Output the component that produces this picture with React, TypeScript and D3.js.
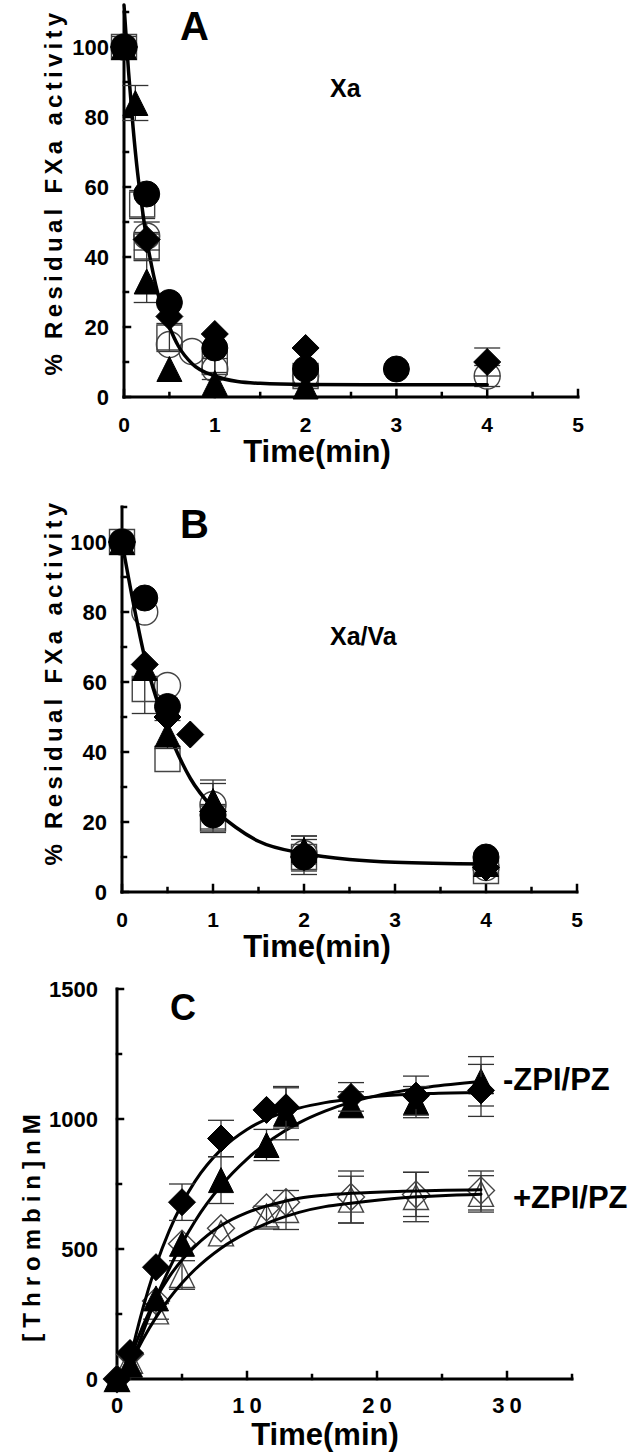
import * as d3 from 'd3';

type Pt = [number, number, number?];
type Shape = 'circle' | 'triangle' | 'diamond' | 'square';

const FONT = '"Liberation Sans", Arial, Helvetica, sans-serif';

// ---------- panel A : Xa ----------
const aFilledCircle: Pt[] = [[0, 100], [0.25, 58], [0.5, 27], [1, 14], [2, 8], [3, 8]];
const aFilledTriangle: Pt[] = [[0, 100], [0.125, 84, 5], [0.25, 33, 6], [0.5, 8], [1, 4], [2, 3]];
const aFilledDiamond: Pt[] = [[0, 100], [0.25, 45], [0.5, 23], [1, 18], [2, 14], [4, 10, 4]];
const aOpenSquare: Pt[] = [[0, 100, 3], [0.2, 55, 4], [0.25, 43, 4], [0.5, 17, 4], [1, 10, 3], [2, 6, 3]];
const aOpenCircle: Pt[] = [[0, 100], [0.25, 46, 4], [0.5, 15], [0.75, 13], [1, 8, 3], [2, 6], [4, 6, 3]];
const aFit: [number, number][] = [
  [0, 112], [0.05, 93], [0.1, 77], [0.15, 64], [0.2, 54], [0.25, 45], [0.3, 38], [0.4, 27],
  [0.5, 20], [0.6, 14.5], [0.75, 9.5], [1, 6], [1.25, 4.4], [1.5, 3.9], [2, 3.6], [3, 3.5], [4, 3.5],
];

// ---------- panel B : Xa/Va ----------
const bFilledCircle: Pt[] = [[0, 100], [0.25, 84], [0.5, 53], [1, 22], [2, 10], [4, 10]];
const bFilledTriangle: Pt[] = [[0, 100], [0.25, 64], [0.5, 45, 4], [1, 26, 5], [2, 12, 4], [4, 8]];
const bFilledDiamond: Pt[] = [[0, 100], [0.25, 65], [0.5, 50], [0.75, 45], [1, 23], [2, 10], [4, 7]];
const bOpenSquare: Pt[] = [[0, 100], [0.25, 58, 7], [0.5, 38], [1, 21, 4], [2, 10, 5], [4, 6]];
const bOpenCircle: Pt[] = [[0, 100], [0.25, 80], [0.5, 59], [1, 25, 7], [2, 11, 5], [4, 7]];
const bFit: [number, number][] = [
  [0, 100], [0.125, 82.5], [0.25, 67], [0.375, 55.5], [0.5, 46.5], [0.75, 32.5], [1, 24],
  [1.25, 18.5], [1.5, 14.5], [2, 11], [2.5, 9.3], [3, 8.5], [4, 8],
];

// ---------- panel C : thrombin generation ----------
const cMinusDiamond: Pt[] = [[0, 0], [1, 100], [3, 430], [5, 680, 70], [8, 925, 70], [11.5, 1035], [13, 1045, 80], [18, 1085, 55], [23, 1090, 75], [28, 1110, 100]];
const cMinusTriangle: Pt[] = [[0, 0], [1, 55], [3, 310], [5, 520], [8, 765, 90], [11.5, 900, 60], [13, 1020, 100], [18, 1055, 50], [23, 1065, 60], [28, 1145, 95]];
const cPlusDiamond: Pt[] = [[0, 0], [1, 95], [3, 300], [5, 520], [8, 580], [11.5, 660], [13, 680], [18, 700, 100], [23, 710, 85], [28, 725, 75]];
const cPlusTriangle: Pt[] = [[0, 0], [1, 70], [3, 260, 30], [5, 400, 55], [8, 560], [11.5, 625, 40], [13, 650, 75], [18, 690, 90], [23, 700, 95], [28, 712, 70]];
const cFitMinusDiamond: [number, number][] = [[0.7, 0], [1, 72], [2, 273], [3, 437], [4, 568], [5, 674], [6, 760], [8, 882], [10, 960], [12, 1010], [14, 1042], [16, 1063], [18, 1077], [20, 1087], [24, 1098], [28, 1102]];
const cFitMinusTriangle: [number, number][] = [[0.8, 0], [1, 33], [2, 180], [3, 310], [4, 422], [5, 521], [6, 607], [8, 743], [10, 846], [12, 925], [14, 985], [16, 1030], [18, 1065], [20, 1090], [24, 1123], [28, 1144]];
const cFitPlusDiamond: [number, number][] = [[0.5, 0], [1, 75], [2, 205], [3, 309], [4, 392], [5, 458], [6, 510], [8, 590], [10, 640], [12, 672], [14, 695], [16, 707], [18, 714], [22, 722], [28, 728]];
const cFitPlusTriangle: [number, number][] = [[0.5, 0], [1, 55], [2, 153], [3, 237], [4, 308], [5, 369], [6, 421], [8, 503], [10, 563], [12, 608], [14, 641], [16, 663], [18, 676], [22, 697], [28, 711]];

// ---------- axes ----------
const abYMajor = [0, 20, 40, 60, 80, 100];
const abYMinor = [10, 30, 50, 70, 90, 110];
const abXMajor = [0, 1, 2, 3, 4, 5];
const abXMinor = [0.5, 1.5, 2.5, 3.5, 4.5];
const cYMajor = [0, 500, 1000, 1500];
const cYMinor = [250, 750, 1250];
const cXMajor = [0, 10, 20, 30];
const cXMinor = [5, 15, 25, 35];

const shapeD: Record<Shape, string> = {
  circle: 'M13,0A13,13,0,1,1,-13,0A13,13,0,1,1,13,0Z',
  triangle: 'M0,-12.5L12.5,12.5L-12.5,12.5Z',
  diamond: 'M0,-13.5L13.5,0L0,13.5L-13.5,0Z',
  square: 'M-12.5,-12.5H12.5V12.5H-12.5Z',
};

type Scale = d3.ScaleLinear<number, number>;

function Markers({ pts, shape, filled, x, y }: { pts: Pt[]; shape: Shape; filled: boolean; x: Scale; y: Scale }) {
  const col = filled ? '#000' : '#444';
  return (
    <g>
      {pts.map(([t, v, e], i) => {
        const cx = x(t);
        return (
          <g key={i}>
            {e ? (
              <g stroke="#333" strokeWidth={1.3}>
                <line x1={cx} x2={cx} y1={y(v - e)} y2={y(v + e)} />
                <line x1={cx - 13} x2={cx + 13} y1={y(v - e)} y2={y(v - e)} />
                <line x1={cx - 13} x2={cx + 13} y1={y(v + e)} y2={y(v + e)} />
              </g>
            ) : null}
            <path
              d={shapeD[shape]}
              transform={`translate(${cx},${y(v)})`}
              fill={filled ? '#000' : 'none'}
              stroke={col}
              strokeWidth={filled ? 1 : 1.4}
            />
          </g>
        );
      })}
    </g>
  );
}

function Fit({ data, x, y, w = 3.5 }: { data: [number, number][]; x: Scale; y: Scale; w?: number }) {
  const line = d3.line<[number, number]>().x(d => x(d[0])).y(d => y(d[1])).curve(d3.curveMonotoneX);
  return <path d={line(data) ?? ''} fill="none" stroke="#000" strokeWidth={w} strokeLinecap="round" />;
}

function Axes({ x, y, yMajor, yMinor, xMajor, xMinor, yTop, xEnd, yLabelGap, xLabelDy, tickFont, xSpacing }: {
  x: Scale; y: Scale; yMajor: number[]; yMinor: number[]; xMajor: number[]; xMinor: number[];
  yTop: number; xEnd: number; yLabelGap: number; xLabelDy: number; tickFont: number; xSpacing: number;
}) {
  const x0 = x(0);
  const y0 = y(0);
  return (
    <g fontFamily={FONT} fontWeight="bold" fill="#000">
      <g stroke="#000" strokeWidth={3} strokeLinecap="square">
        <line x1={x0} x2={x0} y1={y0} y2={y(yTop)} />
        <line x1={x0} x2={x(xEnd)} y1={y0} y2={y0} />
        {yMajor.map(v => <line key={'ym' + v} x1={x0} x2={x0 + 6} y1={y(v)} y2={y(v)} strokeWidth={2.5} />)}
        {yMinor.map(v => <line key={'yn' + v} x1={x0} x2={x0 + 4} y1={y(v)} y2={y(v)} strokeWidth={2.5} />)}
        {xMajor.map(v => <line key={'xm' + v} x1={x(v)} x2={x(v)} y1={y0} y2={y0 - 7} strokeWidth={2.5} />)}
        {xMinor.map(v => <line key={'xn' + v} x1={x(v)} x2={x(v)} y1={y0} y2={y0 - 4} strokeWidth={2.5} />)}
      </g>
      {yMajor.map(v => (
        <text key={'yl' + v} x={x0 - yLabelGap} y={y(v) + 8} textAnchor="end" fontSize={22}>{v}</text>
      ))}
      {xMajor.map(v => (
        <text key={'xl' + v} x={x(v) + xSpacing / 2} y={y0 + xLabelDy} textAnchor="middle" fontSize={tickFont} letterSpacing={xSpacing}>{v}</text>
      ))}
    </g>
  );
}

export default function App() {
  const xA = d3.scaleLinear().domain([0, 5]).range([124, 578]);
  const yA = d3.scaleLinear().domain([0, 110]).range([397, 12]);
  const xB = d3.scaleLinear().domain([0, 5]).range([122, 577]);
  const yB = d3.scaleLinear().domain([0, 110]).range([892, 507]);
  const xC = d3.scaleLinear().domain([0, 35]).range([117, 572]);
  const yC = d3.scaleLinear().domain([0, 1500]).range([1379, 989]);

  const yTitle = { fontFamily: FONT, fontWeight: 'bold' as const, fontSize: 24, letterSpacing: 4.3, textAnchor: 'middle' as const };

  return (
    <svg width={633} height={1452} style={{ position: 'absolute', left: 0, top: 0, background: '#fff' }}>
      <rect width={633} height={1452} fill="#fff" />

      {/* ---- A ---- */}
      <Axes x={xA} y={yA} yMajor={abYMajor} yMinor={abYMinor} xMajor={abXMajor} xMinor={abXMinor}
        yTop={110} xEnd={5} yLabelGap={15} xLabelDy={35} tickFont={21} xSpacing={0} />
      <Markers pts={aOpenSquare} shape="square" filled={false} x={xA} y={yA} />
      <Markers pts={aOpenCircle} shape="circle" filled={false} x={xA} y={yA} />
      <Fit data={aFit} x={xA} y={yA} />
      <Markers pts={aFilledTriangle} shape="triangle" filled x={xA} y={yA} />
      <Markers pts={aFilledDiamond} shape="diamond" filled x={xA} y={yA} />
      <Markers pts={aFilledCircle} shape="circle" filled x={xA} y={yA} />
      <text transform="translate(62,192) rotate(-90)" {...yTitle}>% Residual FXa activity</text>
      <text x={317} y={462} textAnchor="middle" fontFamily={FONT} fontWeight="bold" fontSize={31}>Time(min)</text>
      <text x={180} y={40} fontFamily={FONT} fontWeight="bold" fontSize={40}>A</text>
      <text x={330} y={97} fontFamily={FONT} fontWeight="bold" fontSize={25}>Xa</text>

      {/* ---- B ---- */}
      <Axes x={xB} y={yB} yMajor={abYMajor} yMinor={abYMinor} xMajor={abXMajor} xMinor={abXMinor}
        yTop={110} xEnd={5} yLabelGap={15} xLabelDy={35} tickFont={21} xSpacing={0} />
      <Markers pts={bOpenSquare} shape="square" filled={false} x={xB} y={yB} />
      <Markers pts={bOpenCircle} shape="circle" filled={false} x={xB} y={yB} />
      <Fit data={bFit} x={xB} y={yB} />
      <Markers pts={bFilledTriangle} shape="triangle" filled x={xB} y={yB} />
      <Markers pts={bFilledDiamond} shape="diamond" filled x={xB} y={yB} />
      <Markers pts={bFilledCircle} shape="circle" filled x={xB} y={yB} />
      <text transform="translate(62,682) rotate(-90)" {...yTitle}>% Residual FXa activity</text>
      <text x={317} y={957} textAnchor="middle" fontFamily={FONT} fontWeight="bold" fontSize={31}>Time(min)</text>
      <text x={180} y={538} fontFamily={FONT} fontWeight="bold" fontSize={40}>B</text>
      <text x={330} y={645} fontFamily={FONT} fontWeight="bold" fontSize={25}>Xa/Va</text>

      {/* ---- C ---- */}
      <Axes x={xC} y={yC} yMajor={cYMajor} yMinor={cYMinor} xMajor={cXMajor} xMinor={cXMinor}
        yTop={1500} xEnd={35} yLabelGap={19} xLabelDy={34} tickFont={22} xSpacing={5} />
      <Markers pts={cPlusTriangle} shape="triangle" filled={false} x={xC} y={yC} />
      <Markers pts={cPlusDiamond} shape="diamond" filled={false} x={xC} y={yC} />
      <Fit data={cFitPlusDiamond} x={xC} y={yC} w={3} />
      <Fit data={cFitPlusTriangle} x={xC} y={yC} w={3} />
      <Fit data={cFitMinusDiamond} x={xC} y={yC} w={3} />
      <Fit data={cFitMinusTriangle} x={xC} y={yC} w={3} />
      <Markers pts={cMinusTriangle} shape="triangle" filled x={xC} y={yC} />
      <Markers pts={cMinusDiamond} shape="diamond" filled x={xC} y={yC} />
      <text transform="translate(40,1225) rotate(-90)" {...yTitle} letterSpacing={6}>[Thrombin]nM</text>
      <text x={325} y={1445} textAnchor="middle" fontFamily={FONT} fontWeight="bold" fontSize={31}>Time(min)</text>
      <text x={170} y={1020} fontFamily={FONT} fontWeight="bold" fontSize={36}>C</text>
      <text x={503} y={1090} fontFamily={FONT} fontWeight="bold" fontSize={31}>-ZPI/PZ</text>
      <text x={513} y={1208} fontFamily={FONT} fontWeight="bold" fontSize={31}>+ZPI/PZ</text>
    </svg>
  );
}
